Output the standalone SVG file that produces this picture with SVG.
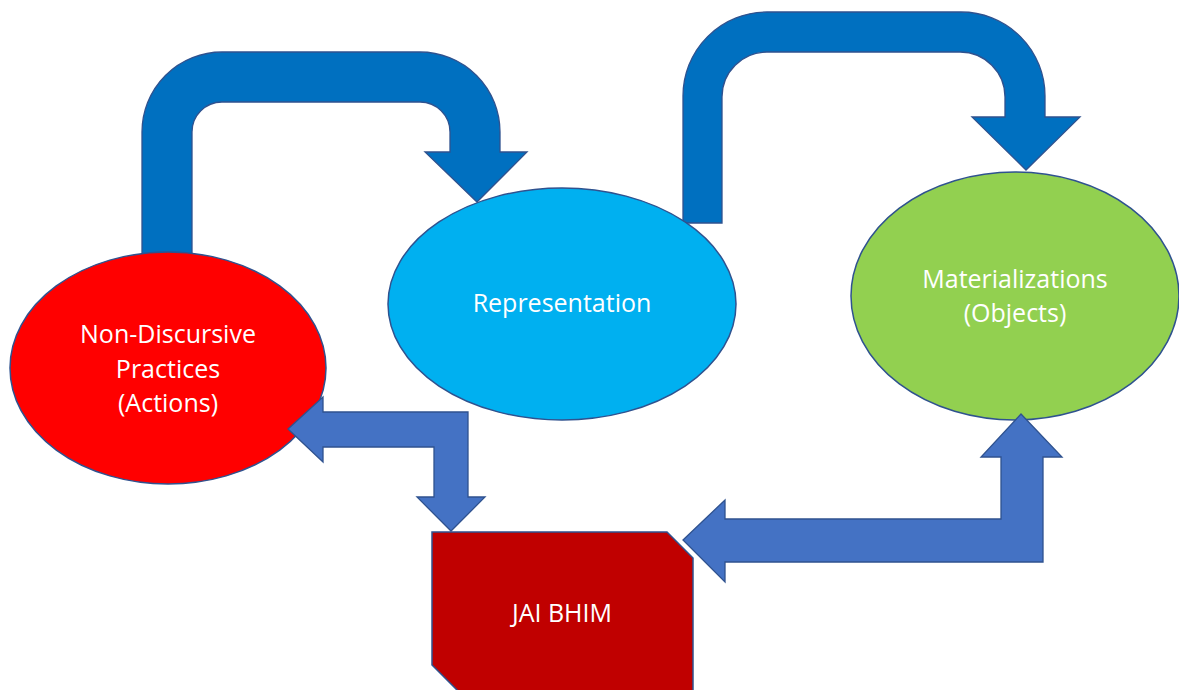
<svg xmlns="http://www.w3.org/2000/svg" width="1179" height="690" viewBox="0 0 1179 690">
<style>
.lbl{font-family:"Open Sans","Liberation Sans",sans-serif;font-size:25px;fill:#ffffff;text-anchor:middle}
.arrTop{fill:#0070C0;stroke:#2F528F;stroke-width:1.3}
.arrBot{fill:#4472C4;stroke:#2F528F;stroke-width:1.3}
.node{stroke:#2F528F;stroke-width:1.5}
</style>
<rect width="1179" height="690" fill="#ffffff"/>
<g id="connectors-top">
<path class="arrTop" d="M142,258 L142,132 A80,80 0 0 1 222,52 L420,52 A80,80 0 0 1 500,132 L500,152 L527,152 L477,202 L425,152 L450,152 L450,132 A30,30 0 0 0 420,102 L222,102 A30,30 0 0 0 192,132 L192,258 Z"/>
<path class="arrTop" d="M683,223 L683,96 A84,84 0 0 1 767,12 L961,12 A84,84 0 0 1 1045,96 L1045,117 L1080,117 L1026,170 L972,117 L1005,117 L1005,97 A45,45 0 0 0 960,52 L767,52 A45,45 0 0 0 722,97 L722,223 Z"/>
</g>
<g id="node-actions">
<ellipse class="node" cx="168" cy="368" rx="158" ry="116" fill="#FF0000"/>
<text class="lbl" x="168" y="343">Non-Discursive</text>
<text class="lbl" x="168" y="378">Practices</text>
<text class="lbl" x="168" y="412">(Actions)</text>
</g>
<g id="node-representation">
<ellipse class="node" cx="562" cy="304" rx="174" ry="116" fill="#00B0F0"/>
<text class="lbl" x="562" y="312">Representation</text>
</g>
<g id="node-materializations">
<ellipse class="node" cx="1015" cy="296" rx="164" ry="124" fill="#92D050"/>
<text class="lbl" x="1015" y="288">Materializations</text>
<text class="lbl" x="1015" y="322">(Objects)</text>
</g>
<g id="node-jaibhim">
<path class="node" d="M432,532 L667,532 L693,558 L693,694 L461,694 L432,665 Z" fill="#C00000"/>
<text class="lbl" x="562" y="622">JAI BHIM</text>
</g>
<g id="connectors-bottom">
<path class="arrBot" d="M288,429 L323,397 L323,412 L468,412 L468,497 L485,497 L451,531 L417,497 L434,497 L434,447 L323,447 L323,462 Z"/>
<path class="arrBot" d="M683,540 L725,500 L725,519 L1001,519 L1001,457 L981,457 L1021,414 L1062,457 L1043,457 L1043,562 L725,562 L725,582 Z"/>
</g>
</svg>
